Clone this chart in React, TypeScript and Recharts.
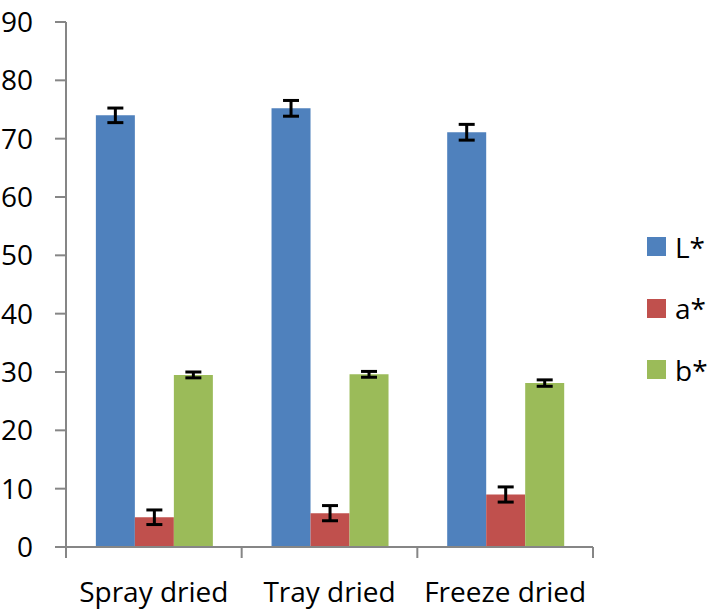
import * as React from "react"
import { BarChart, Bar, XAxis, YAxis, ErrorBar, Legend } from "recharts"

// values
const categories = ["Spray dried", "Tray dried", "Freeze dried"]
const lValues = [74.0, 75.2, 71.1]
const lErrors = [1.25, 1.35, 1.35]
const aValues = [5.1, 5.8, 9.0]
const aErrors = [1.25, 1.3, 1.3]
const bValues = [29.5, 29.6, 28.1]
const bErrors = [0.5, 0.5, 0.55]
const yTicks = [0, 10, 20, 30, 40, 50, 60, 70, 80, 90]

const series = [
  { key: "L", err: "Lerr", name: "L*", color: "#4F81BD" },
  { key: "a", err: "aerr", name: "a*", color: "#C0504D" },
  { key: "b", err: "berr", name: "b*", color: "#9BBB59" },
]

const data = categories.map((name, i) => ({
  name,
  L: lValues[i],
  Lerr: lErrors[i],
  a: aValues[i],
  aerr: aErrors[i],
  b: bValues[i],
  berr: bErrors[i],
}))

const AXIS = "#868686"
const FONT = "'Open Sans', sans-serif"
const X_TICK_MARGIN = 35

// category axis: tick marks sit on the band edges, labels in the middle
const CategoryTick = (props: any) => {
  const { x, y, payload, index } = props
  const half = payload && typeof payload.offset === "number" && payload.offset > 0 ? payload.offset : 87.75
  const axisY = y - X_TICK_MARGIN
  const last = index === categories.length - 1
  return (
    <g>
      <line x1={x - half} x2={x - half} y1={axisY} y2={axisY + 11} stroke={AXIS} strokeWidth={2} />
      {last && <line x1={x + half} x2={x + half} y1={axisY} y2={axisY + 11} stroke={AXIS} strokeWidth={2} />}
      <text x={x} y={y} dy="0.71em" textAnchor="middle" fill="#000" fontSize={28} fontFamily={FONT}>
        {payload.value}
      </text>
    </g>
  )
}

const renderLegend = () => (
  <div style={{ display: "flex", flexDirection: "column", fontFamily: FONT }}>
    {series.map((s) => (
      <div key={s.key} style={{ display: "flex", alignItems: "center", height: 61.5 }}>
        <span style={{ display: "inline-block", width: 19, height: 19, background: s.color }} />
        <span style={{ marginLeft: 9, fontSize: 28, color: "#000", lineHeight: "28px" }}>{s.name}</span>
      </div>
    ))}
  </div>
)

export default function App() {
  return (
    <div style={{ position: "absolute", left: 0, top: 0, background: "#fff" }}>
      <BarChart
        width={711}
        height={612}
        data={data}
        margin={{ top: 22, right: 118, bottom: 0, left: 0 }}
        barCategoryGap="17%"
        barGap={0}
      >
        <XAxis
          dataKey="name"
          height={65}
          axisLine={{ stroke: AXIS, strokeWidth: 2 }}
          tickLine={false}
          tickSize={0}
          tickMargin={X_TICK_MARGIN}
          tick={<CategoryTick />}
          interval={0}
        />
        <YAxis
          width={66}
          domain={[0, 90]}
          ticks={yTicks}
          interval={0}
          axisLine={{ stroke: AXIS, strokeWidth: 2 }}
          tickLine={{ stroke: AXIS, strokeWidth: 2 }}
          tickSize={11}
          tickMargin={22}
          tick={{ fill: "#000", fontSize: 28, fontFamily: FONT }}
        />
        <Legend
          content={renderLegend}
          verticalAlign="middle"
          wrapperStyle={{ left: 647, top: 216, width: 64 }}
        />
        {series.map((s) => (
          <Bar key={s.key} dataKey={s.key} name={s.name} fill={s.color} isAnimationActive={false}>
            <ErrorBar dataKey={s.err} width={8} strokeWidth={3} stroke="#000" />
          </Bar>
        ))}
      </BarChart>
    </div>
  )
}
